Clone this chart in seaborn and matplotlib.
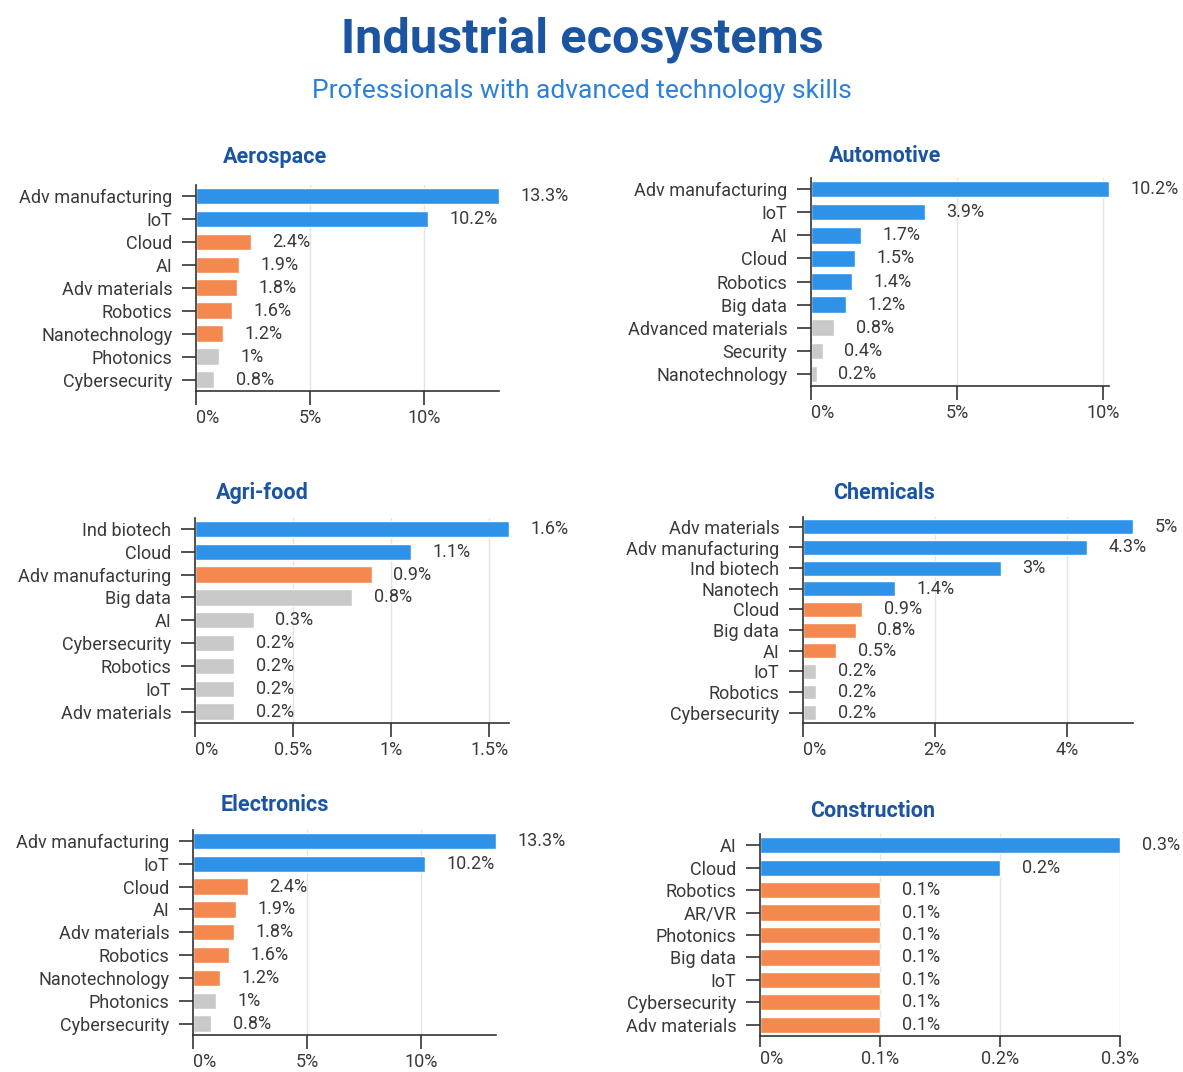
import matplotlib
matplotlib.use("Agg")
import matplotlib.pyplot as plt
import seaborn as sns
import pandas as pd

# ---- data -------------------------------------------------------------
aero_skills = ["Adv manufacturing", "IoT", "Cloud", "AI", "Adv materials",
               "Robotics", "Nanotechnology", "Photonics", "Cybersecurity"]
aero_share = [13.3, 10.2, 2.4, 1.9, 1.8, 1.6, 1.2, 1.0, 0.8]
aero_tier = ["high", "high", "mid", "mid", "mid", "mid", "mid", "low", "low"]

auto_skills = ["Adv manufacturing", "IoT", "AI", "Cloud", "Robotics",
               "Big data", "Advanced materials", "Security", "Nanotechnology"]
auto_share = [10.2, 3.9, 1.7, 1.5, 1.4, 1.2, 0.8, 0.4, 0.2]
auto_tier = ["high", "high", "high", "high", "high", "high", "low", "low", "low"]

agri_skills = ["Ind biotech", "Cloud", "Adv manufacturing", "Big data", "AI",
               "Cybersecurity", "Robotics", "IoT", "Adv materials"]
agri_share = [1.6, 1.1, 0.9, 0.8, 0.3, 0.2, 0.2, 0.2, 0.2]
agri_tier = ["high", "high", "mid", "low", "low", "low", "low", "low", "low"]

chem_skills = ["Adv materials", "Adv manufacturing", "Ind biotech", "Nanotech",
               "Cloud", "Big data", "AI", "IoT", "Robotics", "Cybersecurity"]
chem_share = [5.0, 4.3, 3.0, 1.4, 0.9, 0.8, 0.5, 0.2, 0.2, 0.2]
chem_tier = ["high", "high", "high", "high", "mid", "mid", "mid", "low", "low", "low"]

elec_skills = ["Adv manufacturing", "IoT", "Cloud", "AI", "Adv materials",
               "Robotics", "Nanotechnology", "Photonics", "Cybersecurity"]
elec_share = [13.3, 10.2, 2.4, 1.9, 1.8, 1.6, 1.2, 1.0, 0.8]
elec_tier = ["high", "high", "mid", "mid", "mid", "mid", "mid", "low", "low"]

cons_skills = ["AI", "Cloud", "Robotics", "AR/VR", "Photonics", "Big data",
               "IoT", "Cybersecurity", "Adv materials"]
cons_share = [0.3, 0.2, 0.1, 0.1, 0.1, 0.1, 0.1, 0.1, 0.1]
cons_tier = ["high", "high", "mid", "mid", "mid", "mid", "mid", "mid", "mid"]

panel_titles = ["Aerospace", "Automotive", "Agri-food", "Chemicals",
                "Electronics", "Construction"]
panel_ticks = [[0, 5, 10], [0, 5, 10], [0, 0.5, 1, 1.5], [0, 2, 4],
               [0, 5, 10], [0, 0.1, 0.2, 0.3]]

# ---- style ------------------------------------------------------------
TIER_COLORS = {"high": "#2e93e8", "mid": "#f4894f", "low": "#c9c9c9"}
TEXT = "#3a3a3a"
DARK_BLUE = "#1b55a2"
LIGHT_BLUE = "#2f80d8"

sns.set_theme(style="white")
plt.rcParams["font.family"] = ["Roboto", "DejaVu Sans"]

W, H = 1183, 1072
fig = plt.figure(figsize=(W / 100, H / 100), dpi=100)
fig.patch.set_facecolor("white")

# axes boxes in pixels: left, right, top, bottom
boxes = [(196, 499, 184.5, 391),
         (811, 1109, 177.5, 385.5),
         (195, 509, 517.5, 723),
         (803, 1133, 516.5, 723),
         (193, 496, 829.5, 1035),
         (760, 1120, 834, 1036)]
# tick length / pad (points) for the x axis of each panel
x_tick_len = [10, 10, 10, 10, 10, 8]
x_tick_pad = [3, 3, 3, 3, 3, 2]
title_pos = [(275, 157), (885, 156), (262, 493), (884, 493),
             (275, 805), (873, 811)]

panels = [(aero_skills, aero_share, aero_tier),
          (auto_skills, auto_share, auto_tier),
          (agri_skills, agri_share, agri_tier),
          (chem_skills, chem_share, chem_tier),
          (elec_skills, elec_share, elec_tier),
          (cons_skills, cons_share, cons_tier)]


def pct(v):
    return f"{v:g}%"


for (skills, share, tier), (l, r, t, b), title, ticks, (tx, ty), tl, tp in zip(
        panels, boxes, panel_titles, panel_ticks, title_pos,
        x_tick_len, x_tick_pad):
    ax = fig.add_axes([l / W, 1 - b / H, (r - l) / W, (b - t) / H])
    df = pd.DataFrame({"skill": skills, "share": share})
    sns.barplot(data=df, x="share", y="skill", hue="skill",
                palette=[TIER_COLORS[k] for k in tier], legend=False,
                orient="h", width=0.72, saturation=1, ax=ax)
    for i, v in enumerate(share):
        ax.annotate(pct(v), xy=(v, i), xytext=(15.5, 0),
                    textcoords="offset points", ha="left", va="center",
                    fontsize=13, color=TEXT, annotation_clip=False)

    ax.set_xlim(0, max(share))
    ax.set_ylim(len(skills) - 0.5, -0.5)
    ax.set_xticks(ticks)
    ax.set_xticklabels([pct(v) for v in ticks])
    ax.get_xticklabels()[0].set_ha("left")
    ax.set_xlabel("")
    ax.set_ylabel("")
    ax.set_axisbelow(True)
    ax.xaxis.grid(True, color="#e4e4e4", lw=1)
    ax.yaxis.grid(False)
    for side in ("top", "right"):
        ax.spines[side].set_visible(False)
    for side in ("left", "bottom"):
        ax.spines[side].set_color("#333333")
        ax.spines[side].set_linewidth(1.2)
    ax.tick_params(axis="y", length=10, width=1.2, color="#333333",
                   pad=7, labelsize=13, labelcolor=TEXT, left=True)
    ax.tick_params(axis="x", length=tl, width=1.2, color="#333333",
                   pad=tp, labelsize=13, labelcolor=TEXT, bottom=True)

    fig.text(tx / W, 1 - ty / H, title, ha="center", va="center",
             fontsize=15.5, fontweight="bold", color=DARK_BLUE)

fig.text(582 / W, 1 - 40 / H, "Industrial ecosystems", ha="center",
         va="center", fontsize=35, fontweight="bold", color=DARK_BLUE)
fig.text(582 / W, 1 - 91 / H, "Professionals with advanced technology skills",
         ha="center", va="center", fontsize=19, color=LIGHT_BLUE)

fig.savefig("out.png", dpi=100, facecolor="white")
